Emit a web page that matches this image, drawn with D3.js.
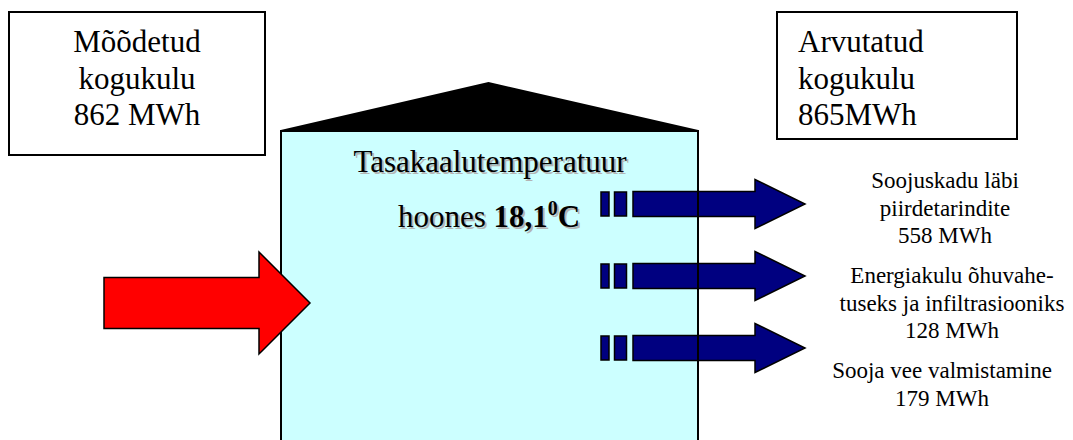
<!DOCTYPE html>
<html lang="et">

<head>
    <meta charset="utf-8">
    <style>
        body {
            margin: 0;
            background: #fff;
        }

        svg text {
            font-family: 'Liberation Serif', 'Times New Roman', Times, serif;
        }
    </style>
</head>

<body>
    <div class='diagram'></div>
    <script src="https://d3js.org/d3.v7.min.js"></script>
    <script>
        // andmed
        const measuredLines = ['Mõõdetud', 'kogukulu'];
        const measuredTotal = 862;
        const calculatedLines = ['Arvutatud', 'kogukulu'];
        const calculatedTotal = 865;
        const balanceTemp = 18.1;
        const flowNames = ['piirded', 'ventilatsioon', 'soojavesi'];
        const flowLabels = [
            ['Soojuskadu läbi', 'piirdetarindite'],
            ['Energiakulu õhuvahe-', 'tuseks ja infiltrasiooniks'],
            ['Sooja vee valmistamine']
        ];
        const flowValues = [558, 128, 179];

        const width = 1073,
            height = 440;

        const svg = d3.select('.diagram').append('svg')
            .attr('width', width)
            .attr('height', height)
            .attr('viewBox', `0 0 ${width} ${height}`)
            .attr('font-family', "'Liberation Serif', serif");

        // nooled paigutatakse skaalaga
        const yFlow = d3.scalePoint().domain(flowNames).range([204, 348]);
        const fmt = d3.format('.1f');

        /* HOONE */
        const house = { x0: 281, x1: 698, top: 131, apex: 83 };
        svg.append('rect')
            .attr('x', house.x0).attr('y', house.top)
            .attr('width', house.x1 - house.x0).attr('height', height - house.top + 10)
            .attr('fill', '#ccffff')
            .attr('stroke', '#000').attr('stroke-width', 2);
        svg.append('path')
            .attr('d', d3.line()([[house.x0, house.top], [(house.x0 + house.x1) / 2 - 1, house.apex], [house.x1, house.top]]) + 'Z')
            .attr('fill', '#000').attr('stroke', '#000').attr('stroke-width', 2);

        // punane nool (sissetulev)
        const redCy = 303;
        svg.append('path')
            .attr('d', d3.line()([
                [104, redCy - 25.5], [259, redCy - 25.5], [259, redCy - 51], [310, redCy],
                [259, redCy + 51], [259, redCy + 25.5], [104, redCy + 25.5]
            ]) + 'Z')
            .attr('fill', '#ff0000').attr('stroke', '#000').attr('stroke-width', 1.5);

        // sinised nooled (väljaminevad)
        const arrows = svg.selectAll('g.flow')
            .data(flowNames)
            .enter()
            .append('g')
            .attr('class', 'flow')
            .attr('transform', d => `translate(0,${yFlow(d)})`);
        arrows.append('rect').attr('x', 601).attr('y', -12).attr('width', 8).attr('height', 24);
        arrows.append('rect').attr('x', 614.5).attr('y', -12).attr('width', 12).attr('height', 24);
        arrows.append('path')
            .attr('d', d3.line()([
                [633, -12.5], [755, -12.5], [755, -24.5], [805, 0],
                [755, 24.5], [755, 12.5], [633, 12.5]
            ]) + 'Z');
        arrows.selectAll('rect, path')
            .attr('fill', '#000080').attr('stroke', '#000').attr('stroke-width', 1.5);

        // hoone parem sein noolte peal
        svg.append('line')
            .attr('x1', house.x1).attr('x2', house.x1)
            .attr('y1', house.top).attr('y2', height)
            .attr('stroke', '#000').attr('stroke-width', 2);

        /* TEKST HOONES (varjuga) */
        function tempText(g, dx, dy, color) {
            g.append('text')
                .attr('x', 490 + dx).attr('y', 172 + dy)
                .attr('text-anchor', 'middle')
                .style('font-size', '31px').style('fill', color)
                .text('Tasakaalutemperatuur');
            const t = g.append('text')
                .attr('x', 489 + dx).attr('y', 227 + dy)
                .attr('text-anchor', 'middle')
                .style('font-size', '31px').style('fill', color);
            t.append('tspan').text('hoones ');
            t.append('tspan').style('font-weight', 'bold').text(fmt(balanceTemp).replace('.', ','));
            t.append('tspan').style('font-weight', 'bold').style('font-size', '20px')
                .attr('dy', -12).text('0');
            t.append('tspan').style('font-weight', 'bold').attr('dy', 12).text('C');
        }
        tempText(svg.append('g'), 2, 2, '#b4b4b4');
        tempText(svg.append('g'), 0, 0, '#000');

        /* KASTID */
        function box(x, y, w, h, lines, anchor, tx) {
            svg.append('rect')
                .attr('x', x).attr('y', y).attr('width', w).attr('height', h)
                .attr('fill', '#fff').attr('stroke', '#000').attr('stroke-width', 2);
            svg.selectAll(null)
                .data(lines)
                .enter()
                .append('text')
                .attr('x', tx)
                .attr('y', (d, i) => 52 + i * 36.5)
                .attr('text-anchor', anchor)
                .style('font-size', '31px')
                .text(d => d);
        }
        box(9, 12, 256, 143, measuredLines.concat([measuredTotal + ' MWh']), 'middle', 137);
        box(777, 12, 240, 127, calculatedLines.concat([calculatedTotal + 'MWh']), 'start', 798);

        /* NOOLTE SILDID */
        const labelX = [945, 952, 942];
        const labelTop = [188, 283, 378];
        flowNames.forEach((name, k) => {
            const lines = flowLabels[k].concat([flowValues[k] + ' MWh']);
            svg.selectAll(null)
                .data(lines)
                .enter()
                .append('text')
                .attr('x', labelX[k])
                .attr('y', (d, i) => labelTop[k] + i * 27.5)
                .attr('text-anchor', 'middle')
                .style('font-size', '23px')
                .text(d => d);
        });
    </script>
</body>

</html>
